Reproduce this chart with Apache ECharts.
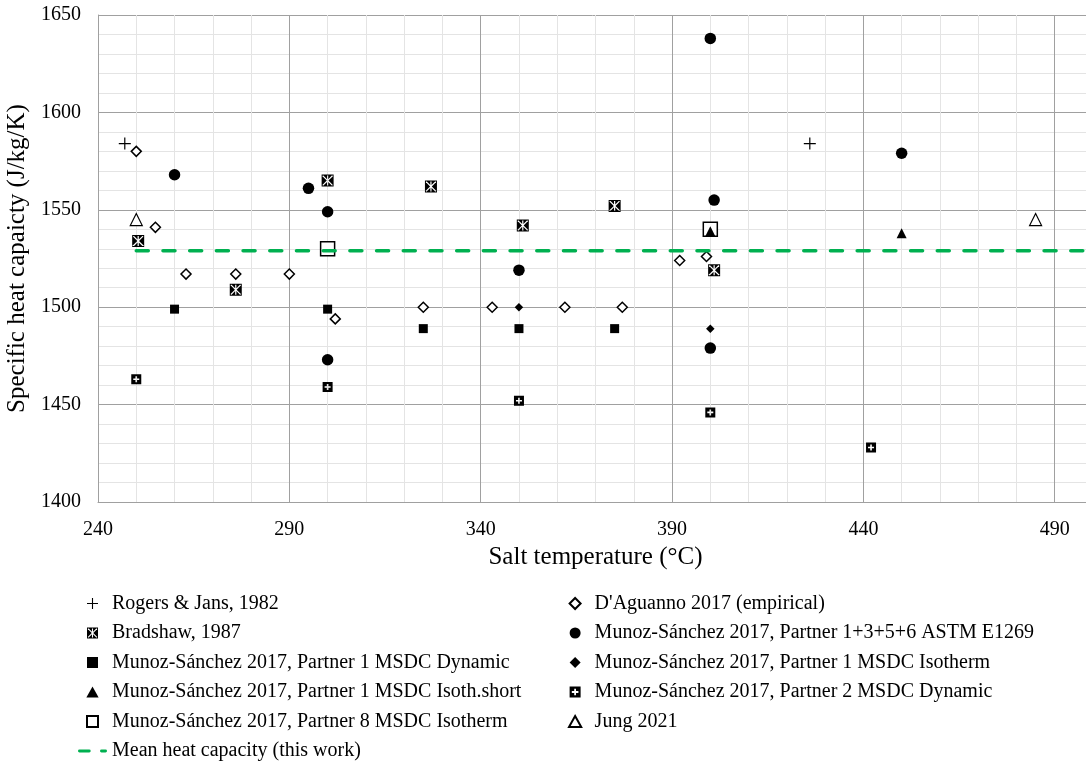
<!DOCTYPE html>
<html>
<head>
<meta charset="utf-8">
<script src="https://cdn.jsdelivr.net/npm/echarts@6/dist/echarts.min.js"></script>
<style>
  html, body { margin: 0; padding: 0; background: #fff; }
  #chart { width: 1086px; height: 764px; }
</style>
</head>
<body>
<div id="chart"></div>
<script>
// ---- data ----
const rogers       = [[247,1584],[426,1584]];
const daguanno     = [[250,1580],[255,1541],[263,1517],[276,1517],[290,1517],[302,1494],[325,1500],[343,1500],[362,1500],[377,1500],[392,1524],[399,1526]];
const bradshaw     = [[250.5,1534],[276,1509],[300,1565],[327,1562],[351,1542],[375,1552],[401,1519]];
const astm         = [[260,1568],[295,1561],[300,1549],[300,1473],[350,1519],[400,1638],[401,1555],[400,1479],[450,1579]];
const p1Dynamic    = [[260,1499],[300,1499],[325,1489],[350,1489],[375,1489]];
const p1Isotherm   = [[350,1500],[400,1489]];
const p1IsothShort = [[400,1539],[450,1538]];
const p2Dynamic    = [[250,1463],[300,1459],[350,1452],[400,1446],[442,1428]];
const p8Isotherm   = [[300,1530],[400,1540]];
const jung         = [[250,1545],[485,1545]];
const meanLine     = [[250,1529],[500,1529]];

const names = {
  rogers: 'Rogers & Jans, 1982',
  daguanno: "D'Aguanno 2017 (empirical)",
  bradshaw: 'Bradshaw, 1987',
  astm: 'Munoz-Sánchez 2017, Partner 1+3+5+6 ASTM E1269',
  p1Dynamic: 'Munoz-Sánchez 2017, Partner 1 MSDC Dynamic',
  p1Isotherm: 'Munoz-Sánchez 2017, Partner 1 MSDC Isotherm',
  p1IsothShort: 'Munoz-Sánchez 2017, Partner 1 MSDC Isoth.short',
  p2Dynamic: 'Munoz-Sánchez 2017, Partner 2 MSDC Dynamic',
  p8Isotherm: 'Munoz-Sánchez 2017, Partner 8 MSDC Isotherm',
  jung: 'Jung 2021',
  mean: 'Mean heat capacity (this work)'
};

// ---- symbols ----
const plusPath = 'path://M5.4 0 H6.6 V5.4 H12 V6.6 H6.6 V12 H5.4 V6.6 H0 V5.4 H5.4 Z';
const squarePlusPath = 'path://M0 0 H10 V10 H0 Z M4.2 2 L4.2 4.2 L2 4.2 L2 5.8 L4.2 5.8 L4.2 8 L5.8 8 L5.8 5.8 L8 5.8 L8 4.2 L5.8 4.2 L5.8 2 Z';
const bradshawPath = 'path://' +
  'M0 0 H12 V1 H0 Z M0 11 H12 V12 H0 Z M0 0 H1 V12 H0 Z M11 0 H12 V12 H11 Z ' +
  'M0.85 0 L5.4 0 L5.4 4.55 Z ' +
  'M6.6 0 L11.15 0 L6.6 4.55 Z ' +
  'M0.85 12 L5.4 7.45 L5.4 12 Z ' +
  'M6.6 12 L6.6 7.45 L11.15 12 Z ' +
  'M0 0.85 L5.15 6 L0 11.15 Z ' +
  'M12 0.85 L12 11.15 L6.85 6 Z';
const rectPath = 'path://M0 0 H10 V10 H0 Z';
const triPath = 'path://M5 0 L10 9 L0 9 Z';
const diamondPath = 'path://M5 0 L10 5 L5 10 L0 5 Z';
const circlePath = 'path://M5 0 A5 5 0 1 1 4.99 0 Z';
const dashIconPath = 'path://M1.75 0 H13.25 A1.75 1.75 0 0 1 13.25 3.5 H1.75 A1.75 1.75 0 0 1 1.75 0 Z M27.75 0 H32.5 A1.75 1.75 0 0 1 32.5 3.5 H27.75 A1.75 1.75 0 0 1 27.75 0 Z';

const FONT = "'Liberation Serif', 'Times New Roman', serif";

function sc(name, data, symbol, size, style, z) {
  return {
    name: name, type: 'scatter', data: data, symbol: symbol, symbolSize: size,
    itemStyle: Object.assign({ opacity: 1 }, style), z: z || 3, emphasis: { disabled: true }
  };
}
const blk = { color: '#000' };
const hollow = { color: '#fff', borderColor: '#000', borderWidth: 1.5 };

const chart = echarts.init(document.getElementById('chart'), null, { renderer: 'canvas' });

const legendBase = {
  orient: 'vertical',
  padding: 0,
  itemWidth: 29,
  itemHeight: 11,
  itemGap: 9.5,
  textStyle: { fontFamily: FONT, fontSize: 20, color: '#000', lineHeight: 20 },
  selectedMode: false
};

chart.setOption({
  animation: false,
  backgroundColor: '#fff',
  grid: { left: 98, right: -7, top: 15, bottom: 262, containLabel: false, outerBoundsMode: 'none' },
  xAxis: {
    type: 'value', min: 240, max: 500, interval: 50,
    name: 'Salt temperature (°C)', nameLocation: 'middle', nameGap: 36,
    nameTextStyle: { fontFamily: FONT, fontSize: 25, color: '#000' },
    axisLine: { show: true, lineStyle: { color: '#A0A0A0', width: 1 } },
    axisTick: { show: false },
    axisLabel: { fontFamily: FONT, fontSize: 20, color: '#000', margin: 18, showMaxLabel: false,
                 formatter: function (v) { return String(v); } },
    splitLine: { show: true, lineStyle: { color: '#A0A0A0', width: 1 } },
    minorTick: { show: false, splitNumber: 5 },
    minorSplitLine: { show: true, lineStyle: { color: '#E4E4E4', width: 1 } }
  },
  yAxis: {
    type: 'value', min: 1400, max: 1650, interval: 50,
    name: 'Specific heat capaicty (J/kg/K)', nameLocation: 'middle', nameGap: 60,
    nameTextStyle: { fontFamily: FONT, fontSize: 25, color: '#000' },
    axisLine: { show: true, lineStyle: { color: '#A0A0A0', width: 1 } },
    axisTick: { show: false },
    axisLabel: { fontFamily: FONT, fontSize: 20, color: '#000', margin: 17,
                 formatter: function (v) { return String(v); } },
    splitLine: { show: true, lineStyle: { color: '#A0A0A0', width: 1 } },
    minorTick: { show: false, splitNumber: 5 },
    minorSplitLine: { show: true, lineStyle: { color: '#E4E4E4', width: 1 } }
  },
  legend: [
    Object.assign({}, legendBase, {
      left: 78, top: 593.5,
      data: [
        { name: names.rogers, icon: plusPath },
        { name: names.bradshaw, icon: bradshawPath },
        { name: names.p1Dynamic, icon: rectPath },
        { name: names.p1IsothShort, icon: triPath },
        { name: names.p8Isotherm, icon: rectPath },
        { name: names.mean, icon: dashIconPath }
      ]
    }),
    Object.assign({}, legendBase, {
      left: 568, top: 593.5,
      data: [
        { name: names.daguanno, icon: diamondPath },
        { name: names.astm, icon: circlePath },
        { name: names.p1Isotherm, icon: diamondPath },
        { name: names.p2Dynamic, icon: squarePlusPath },
        { name: names.jung, icon: triPath }
      ]
    })
  ],
  series: [
    sc(names.p8Isotherm, p8Isotherm, 'rect', 14, hollow),
    sc(names.rogers, rogers, plusPath, 12, blk),
    sc(names.daguanno, daguanno, 'diamond', 10, hollow),
    sc(names.bradshaw, bradshaw, bradshawPath, 12, blk),
    sc(names.astm, astm, 'circle', 11.5, blk),
    sc(names.p1Dynamic, p1Dynamic, 'rect', 9, blk),
    sc(names.p1Isotherm, p1Isotherm, 'diamond', 8.5, blk),
    sc(names.p1IsothShort, p1IsothShort, 'triangle', 10, blk),
    sc(names.p2Dynamic, p2Dynamic, squarePlusPath, 10, blk),
    sc(names.jung, jung, 'triangle', 12, { color: '#fff', borderColor: '#000', borderWidth: 1.2 }),
    {
      name: names.mean, type: 'line', data: meanLine, symbol: 'none', showSymbol: false,
      z: 5, silent: true,
      lineStyle: { color: '#00B050', width: 3.5, type: [12, 14.7], cap: 'round' },
      itemStyle: { color: '#00B050' }
    }
  ]
});
</script>
</body>
</html>
